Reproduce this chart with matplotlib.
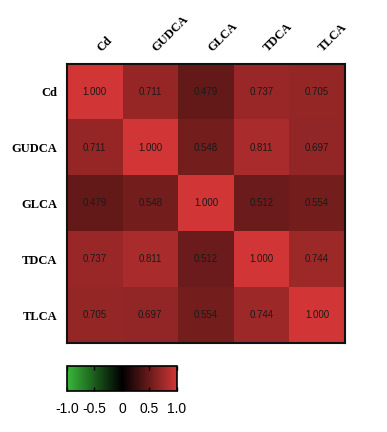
import numpy as np
import matplotlib
matplotlib.use("Agg")
import matplotlib.pyplot as plt
from matplotlib.colors import LinearSegmentedColormap, Normalize
from matplotlib.colorbar import ColorbarBase

labels = ["Cd", "GUDCA", "GLCA", "TDCA", "TLCA"]
corr = [
    [1.000, 0.711, 0.479, 0.737, 0.705],
    [0.711, 1.000, 0.548, 0.811, 0.697],
    [0.479, 0.548, 1.000, 0.512, 0.554],
    [0.737, 0.811, 0.512, 1.000, 0.744],
    [0.705, 0.697, 0.554, 0.744, 1.000],
]
cbar_ticks = [-1.0, -0.5, 0.0, 0.5, 1.0]
cbar_ticklabels = ["-1.0", "-0.5", "0", "0.5", "1.0"]

data = np.array(corr)
cmap = LinearSegmentedColormap.from_list(
    "gkr", [(0.0, (0.22, 0.72, 0.22)), (0.5, (0, 0, 0)), (1.0, (0.82, 0.21, 0.21))]
)
norm = Normalize(-1, 1)

fig = plt.figure(figsize=(3.87, 4.32), dpi=100)
ax = fig.add_axes([0.173, 0.206, 0.718, 0.646])
ax.imshow(data, cmap=cmap, norm=norm, aspect="auto", interpolation="nearest")
n = len(labels)
for i in range(n):
    for j in range(n):
        ax.text(j, i, f"{data[i, j]:.3f}", ha="center", va="center",
                fontsize=7, family="Liberation Sans", color="#1a1a1a")

ax.set_xticks(range(n))
ax.set_yticks(range(n))
ax.set_xticklabels([])
for j, lab in enumerate(labels):
    ax.annotate(lab, xy=(j, -0.5), xycoords="data", xytext=(6, 7),
                textcoords="offset points", rotation=45, ha="left", va="bottom",
                rotation_mode="anchor", family="Liberation Serif",
                fontweight="bold", fontsize=9, annotation_clip=False)
ax.set_yticklabels(labels, family="Liberation Serif", fontweight="bold", fontsize=9)
ax.tick_params(axis="both", length=0, pad=7)
for s in ax.spines.values():
    s.set_linewidth(1.5)
    s.set_color("#111111")

cax = fig.add_axes([0.173, 0.095, 0.284, 0.058])
cb = ColorbarBase(cax, cmap=cmap, norm=norm, orientation="horizontal", ticks=cbar_ticks)
cb.set_ticklabels(cbar_ticklabels)
cb.outline.set_linewidth(1.2)
cax.tick_params(axis="x", direction="in", length=3, width=1, pad=8, labelsize=10,
                top=True, bottom=True)
for t in cax.get_xticklabels():
    t.set_family("Liberation Sans")

fig.savefig("out.png", dpi=100)
